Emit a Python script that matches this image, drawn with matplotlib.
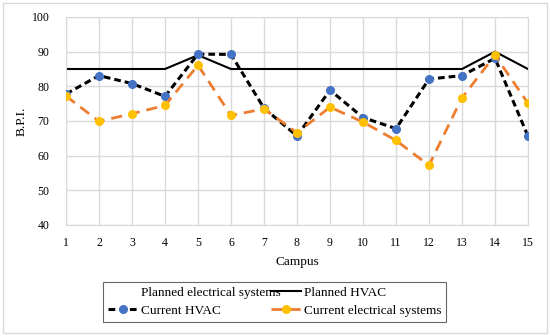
import matplotlib.pyplot as plt
from matplotlib.patches import Rectangle

campus = list(range(1, 16))
current_hvac = [77.8, 83.1, 80.8, 77.1, 89.3, 89.2, 73.7, 65.7, 78.9, 71.0, 67.8, 82.1, 83.1, 88.1, 65.6]
current_elec = [77.2, 69.9, 72.1, 74.5, 86.1, 71.6, 73.5, 66.6, 74.0, 69.7, 64.4, 57.2, 76.7, 89.0, 75.1]
planned_hvac = [85, 85, 85, 85, 89, 85, 85, 85, 85, 85, 85, 85, 85, 90, 85]
planned_elec = [85, 85, 85, 85, 89, 85, 85, 85, 85, 85, 85, 85, 85, 90, 85]
yticks = [40, 50, 60, 70, 80, 90, 100]

plt.rcParams['font.family'] = ['Liberation Serif', 'DejaVu Serif']

fig = plt.figure(figsize=(5.5, 3.36), dpi=100)
ax = fig.add_axes([66/550, 1 - 225/336, 462/550, 208/336])

# outer frame of the chart area
fig.patches.append(Rectangle((3/550, 3/336), 544/550, 330/336, transform=fig.transFigure,
                             fill=False, edgecolor='#d9d9d9', linewidth=1))

grid_c = '#d9d9d9'
ax.grid(True, color=grid_c, linewidth=1)
ax.set_axisbelow(True)
for s in ax.spines.values():
    s.set_color(grid_c)

# planned electrical systems has no line in the original
ax.plot(campus, planned_elec, linestyle='none', label='Planned electrical systems')
ax.plot(campus, current_hvac, color='black', linestyle=(0, (2.2, 1.3)), linewidth=2.2,
        marker='o', markersize=5.5, markerfacecolor='#4472C4', markeredgecolor='#4472C4',
        label='Current HVAC', zorder=3)
ax.plot(campus, planned_hvac, color='black', linewidth=1.5, label='Planned HVAC', zorder=2)
ax.plot(campus, current_elec, color='#ED7D31', linestyle=(0, (4, 2.5)), linewidth=2,
        marker='o', markersize=5.5, markerfacecolor='#FFC000', markeredgecolor='#FFC000',
        label='Current electrical systems', zorder=4)

ax.set_xlim(1, 15)
ax.set_ylim(40, 100)
ax.set_xticks(campus)
ax.set_yticks(yticks)
ax.tick_params(axis='x', length=0, labelsize=8.5, pad=9)
ax.tick_params(axis='y', length=0, labelsize=8.5, pad=12)
ax.set_xlabel('Campus', fontsize=9.5, labelpad=5)
ax.set_ylabel('B.P.I.', fontsize=9.5)
ax.yaxis.set_label_coords(-0.084, 0.5)

leg = fig.legend(loc='upper left', bbox_to_anchor=(103/550, 1 - 326/336, 343/550, 44/336),
                 mode='expand', ncol=2, fontsize=9.5, frameon=True, fancybox=False,
                 handlelength=2.3, handletextpad=0.2, columnspacing=0.5,
                 borderpad=0.35, labelspacing=0.45, borderaxespad=0)
leg.get_frame().set_edgecolor('#404040')
leg.get_frame().set_linewidth(0.8)

fig.savefig('out.png', dpi=100)
